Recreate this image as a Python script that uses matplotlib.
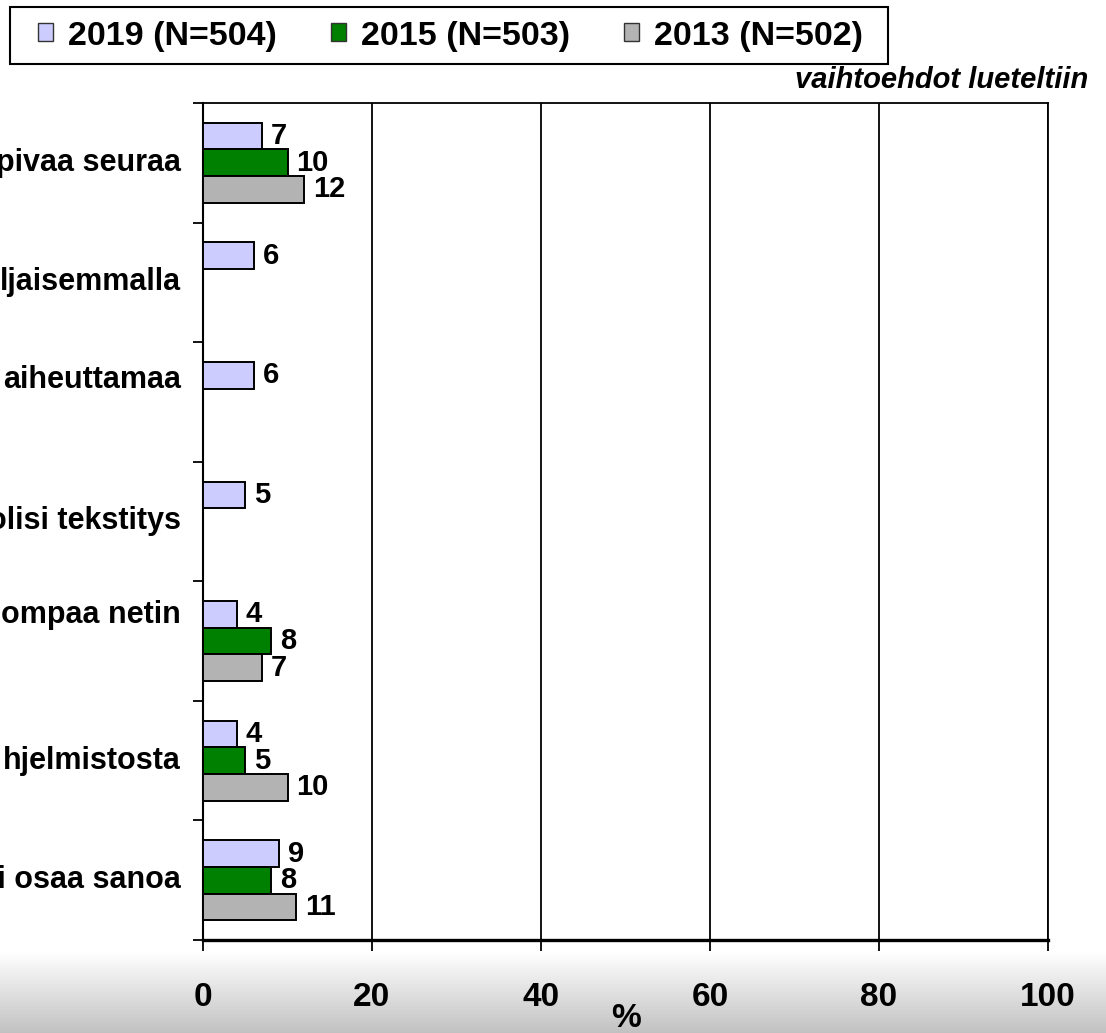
import numpy as np
import matplotlib
matplotlib.use("Agg")
import matplotlib.pyplot as plt
from matplotlib.patches import Patch, Rectangle
from matplotlib import transforms

plt.rcParams['font.family'] = ['Liberation Sans', 'DejaVu Sans']
plt.rcParams['font.weight'] = 'bold'

# ---- data ----
categories = ["pivaa seuraa", "ljaisemmalla", "aiheuttamaa", "olisi tekstitys",
              "ompaa netin", "hjelmistosta", "Ei osaa sanoa"]
label_offsets_px = [0, 0, -22, 0, -26, 0, 0]   # vertical placement of the (multi-line) labels
series_names = ["2019 (N=504)", "2015 (N=503)", "2013 (N=502)"]
v2019 = [7, 6, 6, 5, 4, 4, 9]
v2015 = [10, np.nan, np.nan, np.nan, 8, 5, 8]
v2013 = [12, np.nan, np.nan, np.nan, 7, 10, 11]
colors = ["#CCCCFF", "#008000", "#B3B3B3"]
xticks = [0, 20, 40, 60, 80, 100]
note = "vaihtoehdot lueteltiin"

W, H = 1106, 1033
fig = plt.figure(figsize=(W / 100, H / 100), dpi=100)
fig.patch.set_facecolor("white")

# bottom gradient band
band_top = 952
bax = fig.add_axes([0, 0, 1, (H - band_top) / H], zorder=0)
grad = np.linspace(1.0, 0.76, 100).reshape(-1, 1)
bax.imshow(np.dstack([grad, grad, grad]), aspect="auto", extent=[0, 1, 0, 1])
bax.axis("off")

ax = fig.add_axes([203 / W, 1 - 940 / H, 845 / W, 837 / H], zorder=2)
ax.set_facecolor("none")

n = len(categories)
y = np.arange(n)
h = 0.223
series = [v2019, v2015, v2013]
for i, (vals, col) in enumerate(zip(series, colors)):
    vals = np.array(vals, dtype=float)
    cont = ax.barh(y + (i - 1) * h, vals, height=h, color=col,
                   edgecolor="black", linewidth=1.4, zorder=3)
    labs = ["" if np.isnan(v) else f"{int(v)}" for v in vals]
    ax.bar_label(cont, labels=labs, padding=6.5, fontsize=21,
                 fontweight="bold", zorder=4)

ax.set_xlim(0, 100)
ax.set_ylim(n - 0.5, -0.5)
ax.set_xticks(xticks)
ax.set_xticklabels([str(t) for t in xticks], fontsize=24, fontweight="bold")
ax.tick_params(axis="x", direction="out", length=8, width=1.3, pad=22)
ax.set_yticks(np.arange(-0.5, n + 0.5, 1))
ax.set_yticklabels([])
ax.tick_params(axis="y", direction="out", length=7.2, width=1.3)
ax.grid(axis="x", color="black", linewidth=1.3, zorder=1)
for s in ["top", "right"]:
    ax.spines[s].set_linewidth(1.3)
ax.spines["left"].set_linewidth(1.5)
ax.spines["bottom"].set_linewidth(2.4)
ax.set_xlabel("%", fontsize=24, fontweight="bold", labelpad=-7)

# category labels (partially cut by the figure edge, as in the original)
base = transforms.blended_transform_factory(ax.transAxes, ax.transData)
for yi, lab, off in zip(y, categories, label_offsets_px):
    tr = transforms.offset_copy(base, fig=fig, x=-22 * 0.72, y=-off * 0.72, units="points")
    ax.text(0, yi, lab, transform=tr, ha="right", va="center",
            fontsize=22, fontweight="bold", clip_on=False)

# legend
handles = [Patch(facecolor=c, edgecolor="#333333", linewidth=1.0) for c in colors]
fig.legend(handles, series_names, ncol=3, loc="center left",
           bbox_to_anchor=(38 / W, 1 - 36 / H), frameon=False,
           prop={"size": 24.5, "weight": "bold"}, borderpad=0, borderaxespad=0,
           handlelength=0.44, handleheight=0.44, handletextpad=0.44,
           columnspacing=1.59)
fig.patches.append(Rectangle((10 / W, 1 - 64 / H), 878 / W, 57 / H,
                             transform=fig.transFigure, fill=False,
                             edgecolor="black", linewidth=1.5))

fig.text(1088 / W, 1 - 88 / H, note, ha="right", va="baseline",
         fontsize=21, fontweight="bold", fontstyle="italic")

fig.savefig("out.png", dpi=100)
